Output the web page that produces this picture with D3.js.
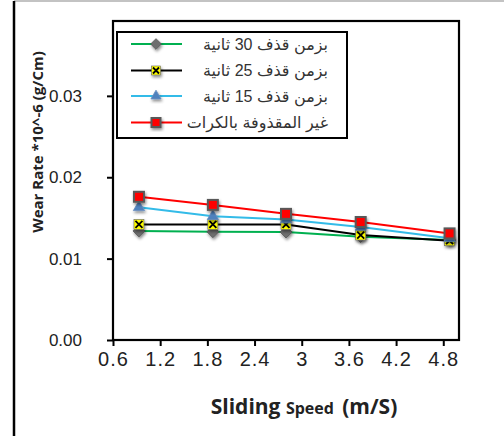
<!DOCTYPE html>
<html><head><meta charset="utf-8">
<script src="https://cdn.jsdelivr.net/npm/d3@7"></script>
<style>body{margin:0;background:#fff}svg{display:block}</style>
</head><body>
<script>
const speeds = [0.93, 1.87, 2.8, 3.75, 4.88];
const seriesNames = ["بزمن قذف 30 ثانية", "بزمن قذف 25 ثانية", "بزمن قذف 15 ثانية", "غير المقذوفة بالكرات"];
const shot30 = [0.0134, 0.0133, 0.01326, 0.0127, 0.01228];
const shot25 = [0.0142, 0.0142, 0.0142, 0.0129, 0.0122];
const shot15 = [0.0163, 0.0152, 0.0148, 0.0139, 0.0125];
const unshot = [0.0176, 0.0166, 0.0155, 0.0145, 0.0131];
const xTicks = [0.6, 1.2, 1.8, 2.4, 3, 3.6, 4.2, 4.8];
const yTicks = [0, 0.01, 0.02, 0.03];

const W = 504, H = 436;
const svg = d3.select("body").append("svg").attr("width", W).attr("height", H);
const defs = svg.append("defs");
const f = defs.append("filter").attr("id","sh").attr("x","-50%").attr("y","-50%").attr("width","200%").attr("height","200%");
f.append("feDropShadow").attr("dx",1).attr("dy",2).attr("stdDeviation",1.5).attr("flood-color","#000").attr("flood-opacity",0.45);

// outer frame
svg.append("line").attr("x1",14).attr("y1",1).attr("x2",W).attr("y2",1).attr("stroke","#888").attr("stroke-width",1.2);
svg.append("line").attr("x1",14).attr("y1",1).attr("x2",14).attr("y2",H).attr("stroke","#000").attr("stroke-width",2.5);

const x = d3.scaleLinear().domain([0.6, 5.0]).range([113, 459]);
const y = d3.scaleLinear().domain([0, 0.0392]).range([340, 21]);

// plot frame
svg.append("rect").attr("x",113).attr("y",21).attr("width",459-113).attr("height",340-21)
  .attr("fill","none").attr("stroke","#000").attr("stroke-width",2.2);

// axes
const xAxis = svg.append("g").attr("transform","translate(0,340)")
  .call(d3.axisBottom(x).tickValues(xTicks).tickSize(6).tickFormat(d => String(d)));
xAxis.select(".domain").remove();
xAxis.selectAll("line").attr("stroke","#000").attr("stroke-width",2);
xAxis.selectAll("text").attr("font-family","Liberation Sans, Arial, sans-serif").attr("font-size",20)
  .attr("letter-spacing","1px").attr("fill","#222").attr("y",12);

const yAxis = svg.append("g").attr("transform","translate(113,0)")
  .call(d3.axisLeft(y).tickValues(yTicks).tickSize(6).tickFormat(d3.format(".2f")));
yAxis.select(".domain").remove();
yAxis.selectAll("line").attr("stroke","#000").attr("stroke-width",2);
yAxis.selectAll("text").attr("font-family","Liberation Sans, Arial, sans-serif").attr("font-size",17)
  .attr("fill","#222").attr("x",-31);

// axis titles
const xt = svg.append("text").attr("x",304).attr("y",414).attr("text-anchor","middle")
  .attr("font-family","Open Sans, Noto Sans, sans-serif").attr("font-weight","bold").attr("fill","#222");
xt.append("tspan").attr("font-size",21).text("Sliding ");
xt.append("tspan").attr("font-size",16).text("Speed\u00a0\u00a0");
xt.append("tspan").attr("font-size",21).text("(m/S)");

svg.append("text").attr("transform","translate(43,142) rotate(-90)").attr("text-anchor","middle")
  .attr("font-family","Open Sans, Noto Sans, sans-serif").attr("font-weight","bold").attr("font-size",15)
  .attr("fill","#222").text("Wear Rate *10^-6 (g/Cm)");

const series = [
  {name: seriesNames[0], vals: shot30, color: "#00b050", marker: "diamond"},
  {name: seriesNames[1], vals: shot25, color: "#000000", marker: "xsq"},
  {name: seriesNames[2], vals: shot15, color: "#33bbe8", marker: "tri"},
  {name: seriesNames[3], vals: unshot, color: "#ff0000", marker: "sq"}
];

function drawMarker(g, type, cx, cy, s) {
  const m = g.append("g").attr("transform",`translate(${cx},${cy})`).attr("filter","url(#sh)");
  if (type === "diamond") {
    m.append("path").attr("d",d3.symbol(d3.symbolDiamond2, s*s*0.9)()).attr("fill","#6e6e6e").attr("stroke","#555").attr("stroke-width",0.8);
  } else if (type === "xsq") {
    const h = s/2;
    m.append("rect").attr("x",-h).attr("y",-h).attr("width",s).attr("height",s).attr("fill","#ffff00").attr("stroke","#666").attr("stroke-width",0.6);
    m.append("path").attr("d",`M${-h+1.5},${-h+1.5}L${h-1.5},${h-1.5}M${h-1.5},${-h+1.5}L${-h+1.5},${h-1.5}`)
      .attr("stroke","#000").attr("stroke-width",1.8);
  } else if (type === "tri") {
    m.append("path").attr("d",d3.symbol(d3.symbolTriangle, s*s*0.55)()).attr("fill","#4f81bd").attr("stroke","#6a8fc0").attr("stroke-width",0.8);
  } else {
    const h = s/2;
    m.append("rect").attr("x",-h).attr("y",-h).attr("width",s).attr("height",s).attr("fill","#ff0000").attr("stroke","#595959").attr("stroke-width",2);
  }
}

const line = d3.line().x((d,i) => x(speeds[i])).y(d => y(d));
const plot = svg.append("g");
series.forEach(s => {
  plot.append("path").datum(s.vals).attr("d",line).attr("fill","none").attr("stroke",s.color).attr("stroke-width",2);
});
series.forEach(s => {
  s.vals.forEach((v,i) => drawMarker(plot, s.marker, x(speeds[i]), y(v), 10));
});

// legend
const lg = svg.append("g");
lg.append("rect").attr("x",117).attr("y",32).attr("width",230).attr("height",106)
  .attr("fill","#fff").attr("stroke","#000").attr("stroke-width",2);
const rowsY = [44, 70.5, 96, 122.5];
series.forEach((s,i) => {
  const yy = rowsY[i];
  lg.append("line").attr("x1",131).attr("x2",182).attr("y1",yy).attr("y2",yy).attr("stroke",s.color).attr("stroke-width",2);
  drawMarker(lg, s.marker, 156, yy, 9);
  lg.append("text").attr("x",328).attr("y",yy+5.5).attr("text-anchor","end")
    .attr("font-family","Liberation Sans, DejaVu Sans, sans-serif").attr("font-size",16).attr("fill","#333")
    .text(s.name);
});
</script>
</body></html>
